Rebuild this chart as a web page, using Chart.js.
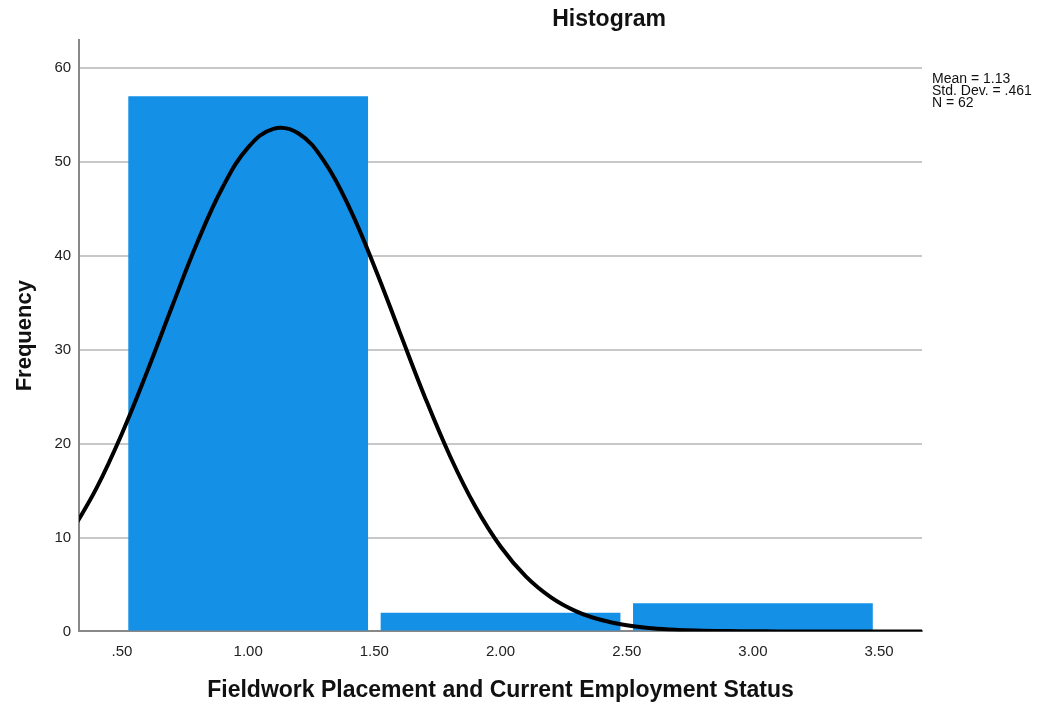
<!DOCTYPE html>
<html>
<head>
<meta charset="utf-8">
<script src="https://cdn.jsdelivr.net/npm/chart.js@4.4.1/dist/chart.umd.min.js"></script>
<style>
  html, body { margin: 0; padding: 0; background: #fff; }
  #wrap { width: 1045px; height: 704px; position: relative; }
</style>
</head>
<body>
<div id="wrap"><canvas id="histChart"></canvas></div>
<script>
// histogram bins (bin centres) and counts
const binCentres = [1, 2, 3];
const binCounts = [57, 2, 3];

// fitted normal curve
const curveX = [0.3, 0.4, 0.5, 0.6, 0.7, 0.8, 0.9, 1.0, 1.1, 1.2, 1.3, 1.4, 1.5, 1.6, 1.7, 1.8,
    1.9, 2.0, 2.1, 2.2, 2.3, 2.4, 2.5, 2.6, 2.7, 2.8, 2.9, 3.0, 3.1, 3.2, 3.3, 3.4, 3.5, 3.6, 3.7];
const curveY = [10.61, 15.31, 21.09, 27.70, 34.72, 41.53, 47.37, 51.56, 53.54, 53.04, 50.13, 45.20,
    38.88, 31.91, 24.98, 18.66, 13.30, 9.04, 5.86, 3.63, 2.14, 1.21, 0.65, 0.33, 0.16, 0.08,
    0.03, 0.01, 0, 0, 0, 0, 0, 0, 0];

const xTicks = [0.5, 1.0, 1.5, 2.0, 2.5, 3.0, 3.5];
const yTicks = [0, 10, 20, 30, 40, 50, 60];
const statsLines = ['Mean = 1.13', 'Std. Dev. = .461', 'N = 62'];

const fontFamily = '"Liberation Sans", Arial, sans-serif';

// title and stats box, SPSS style
const extraText = {
    id: 'extraText',
    afterDraw(chart) {
        const c = chart.ctx;
        const area = chart.chartArea;
        c.save();
        c.fillStyle = '#111';
        c.textBaseline = 'middle';
        c.textAlign = 'center';
        c.font = 'bold 23px ' + fontFamily;
        c.fillText('Histogram', 609, 20);
        c.textAlign = 'left';
        c.font = '14px ' + fontFamily;
        statsLines.forEach(function(line, i) {
            c.fillText(line, area.right + 10, 79.5 + i * 12);
        });
        c.restore();
    }
};

const ctx = document.getElementById('histChart').getContext('2d');
const histChart = new Chart(ctx, {
    type: 'bar',
    data: {
        datasets: [
            {
                type: 'line',
                data: curveX.map((x, i) => ({ x: x, y: curveY[i] })),
                borderColor: '#000',
                borderWidth: 4,
                pointRadius: 0,
                tension: 0.4,
                clip: 0,
                order: 0
            },
            {
                type: 'bar',
                data: binCentres.map((x, i) => ({ x: x, y: binCounts[i] })),
                backgroundColor: '#1490e6',
                borderWidth: 0,
                categoryPercentage: 1,
                barPercentage: 1.9,
                order: 1
            }
        ]
    },
    options: {
        responsive: true,
        maintainAspectRatio: false,
        devicePixelRatio: 1,
        animation: false,
        layout: {
            padding: { top: 40, right: 123, left: 12, bottom: 0 }
        },
        scales: {
            x: {
                type: 'linear',
                offset: false,
                min: 0.33,
                max: 3.67,
                afterBuildTicks: function(scale) {
                    scale.ticks = xTicks.map(v => ({ value: v }));
                },
                grid: { display: false, drawTicks: false },
                border: { display: true, color: '#888', width: 2 },
                ticks: {
                    padding: 11,
                    color: '#222',
                    font: { family: fontFamily, size: 15 },
                    callback: function(v) {
                        return Number(v).toFixed(2).replace(/^0/, '');
                    }
                },
                title: {
                    display: true,
                    text: 'Fieldwork Placement and Current Employment Status',
                    color: '#111',
                    font: { family: fontFamily, size: 23, weight: 'bold' },
                    padding: { top: 5, bottom: 0 }
                }
            },
            y: {
                min: 0,
                max: 63,
                afterBuildTicks: function(scale) {
                    scale.ticks = yTicks.map(v => ({ value: v }));
                },
                grid: { color: '#c8c8c8', lineWidth: 2, drawTicks: false },
                border: { display: true, color: '#888', width: 2 },
                ticks: {
                    padding: 8,
                    color: '#222',
                    font: { family: fontFamily, size: 15 }
                },
                title: {
                    display: true,
                    text: 'Frequency',
                    color: '#111',
                    font: { family: fontFamily, size: 22, weight: 'bold' },
                    padding: { top: 0, bottom: 8 }
                }
            }
        },
        plugins: {
            legend: { display: false },
            tooltip: { enabled: false }
        }
    },
    plugins: [extraText]
});
</script>
</body>
</html>
